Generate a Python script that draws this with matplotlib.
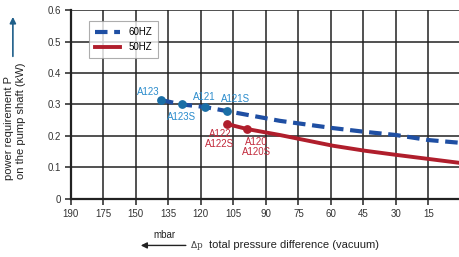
import matplotlib
matplotlib.use("Agg")
import matplotlib.pyplot as plt
import matplotlib.font_manager as fm

# x axis: equally spaced categorical pressure ticks (mbar)
x_labels = ['190', '175', '150', '135', '120', '105', '90', '75', '60', '45', '30', '15', '0']
y_ticks = [0, 0.1, 0.2, 0.3, 0.4, 0.5, 0.6]

# 60 Hz curve (position along tick index, power kW)
hz60_x = [2.77, 3.42, 4.12, 4.8, 6.43, 8.06, 9.05, 10.0, 11.0, 12.0]
hz60_y = [0.314, 0.300, 0.292, 0.279, 0.248, 0.225, 0.213, 0.203, 0.187, 0.178]
# 50 Hz curve
hz50_x = [4.8, 5.42, 6.43, 8.06, 9.05, 10.0, 11.0, 12.0]
hz50_y = [0.238, 0.222, 0.203, 0.169, 0.153, 0.140, 0.127, 0.114]

# pump type points
pts60_x = [2.77, 3.42, 4.12, 4.8]
pts60_y = [0.314, 0.300, 0.292, 0.279]
pts60_lbl = ['A123', 'A123S', 'A121', 'A121S']
pts50_x = [4.8, 5.42]
pts50_y = [0.238, 0.222]
pts50_lbl = ['A122\nA122S', 'A120\nA120S']

names = {f.name for f in fm.fontManager.ttflist}
fam = ['Liberation Sans Narrow', 'Liberation Sans', 'DejaVu Sans'] if 'Liberation Sans Narrow' in names else ['Liberation Sans', 'DejaVu Sans']
plt.rcParams['font.family'] = fam

BLUE = '#1f4fa3'
BLUE_PT = '#1a6ea6'
BLUE_TXT = '#2b8ccc'
RED = '#b01e2c'
RED_TXT = '#c22a3c'

fig = plt.figure(figsize=(4.6, 2.57), dpi=100)
ax = fig.add_axes([0.154, 0.226, 0.848, 0.735])

ax.plot(hz60_x, hz60_y, linestyle=(0, (3, 1.6)), color=BLUE, lw=3.0, label='60HZ', zorder=3)
ax.plot(hz50_x, hz50_y, linestyle='-', color=RED, lw=2.8, label='50HZ', zorder=3)
ax.scatter(pts60_x, pts60_y, s=28, color=BLUE_PT, zorder=4)
ax.scatter(pts50_x, pts50_y, s=28, color=RED, zorder=4)

# labels next to points (offsets in points)
offs60 = [(-9, 6), (0, -9), (0, 7), (6, 9)]
for x, y, t, o in zip(pts60_x, pts60_y, pts60_lbl, offs60):
    ax.annotate(t, (x, y), xytext=o, textcoords='offset points', ha='center', va='center',
                color=BLUE_TXT, fontsize=7)
offs50 = [(-5, -11), (7, -13)]
for x, y, t, o in zip(pts50_x, pts50_y, pts50_lbl, offs50):
    ax.annotate(t, (x, y), xytext=o, textcoords='offset points', ha='center', va='center',
                color=RED_TXT, fontsize=7, linespacing=0.95)

ax.set_xlim(0, 11.97)
ax.set_ylim(0, 0.6)
ax.set_xticks(range(len(x_labels)))
ax.set_xticklabels(x_labels)
ax.set_yticks(y_ticks)
ax.set_yticklabels(['0', '0.1', '0.2', '0.3', '0.4', '0.5', '0.6'])
ax.grid(True, color='#222222', lw=1.1)
ax.set_axisbelow(True)
ax.tick_params(axis='both', length=4, width=1.1, color='#222222', labelsize=7,
               labelcolor='#333333', pad=3)
for side in ['top', 'right']:
    ax.spines[side].set_visible(False)
for side in ['left', 'bottom']:
    ax.spines[side].set_linewidth(1.6)
    ax.spines[side].set_color('#222222')

leg = ax.legend(loc='upper left', bbox_to_anchor=(0.035, 0.965), fontsize=7, frameon=True,
                fancybox=False, edgecolor='#999999', handlelength=2.6, borderpad=0.6,
                labelspacing=0.5)
leg.get_frame().set_linewidth(0.8)

# y label with arrow
fig.text(0.02, 0.50, 'power requirement P', rotation=90, ha='center', va='center',
         fontsize=8, color='#222222')
fig.text(0.045, 0.53, 'on the pump shaft (kW)', rotation=90, ha='center', va='center',
         fontsize=8, color='#222222')
fig.add_artist(matplotlib.patches.FancyArrowPatch((0.028, 0.77), (0.028, 0.945),
               transform=fig.transFigure, arrowstyle='-|>', mutation_scale=9,
               color='#1f5f8a', lw=1.2))

# x label with arrow
fig.text(0.358, 0.085, 'mbar', ha='center', va='center', fontsize=7, color='#222222')
fig.add_artist(matplotlib.patches.FancyArrowPatch((0.41, 0.045), (0.30, 0.045),
               transform=fig.transFigure, arrowstyle='-|>', mutation_scale=9,
               color='#222222', lw=1.0))
fig.text(0.412, 0.043, r'$\Delta$p', ha='left', va='center', fontsize=6.5,
         color='#444444', family='DejaVu Serif')
fig.text(0.455, 0.045, 'total pressure difference (vacuum)', ha='left', va='center',
         fontsize=8, color='#222222')

fig.savefig('out.png', dpi=100)
